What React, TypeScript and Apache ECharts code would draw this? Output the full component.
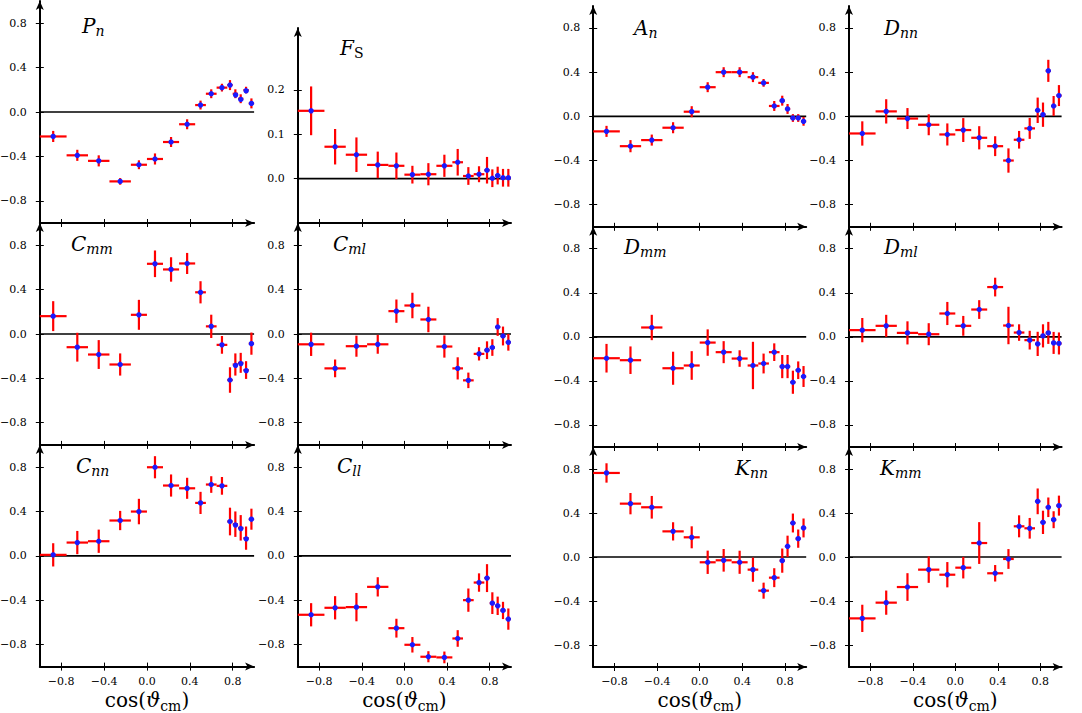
import React, { useEffect, useRef } from "react";
import * as echarts from "echarts";

// ---- shared bins (cos theta_cm) ----
const binCenters = [-0.875, -0.65, -0.45, -0.25, -0.075, 0.075, 0.225, 0.375, 0.5, 0.6, 0.7, 0.775, 0.825, 0.875, 0.925, 0.975];
const binHalfWidths = [0.125, 0.1, 0.1, 0.1, 0.075, 0.075, 0.075, 0.075, 0.05, 0.05, 0.05, 0.025, 0.025, 0.025, 0.025, 0.025];

// ---- tick values ----
const xTickValues = [-0.8, -0.4, 0, 0.4, 0.8];
const yTickValues = [-0.8, -0.4, 0, 0.4, 0.8];
const fsTickValues = [0, 0.1, 0.2];

// ---- observables ----
const PnValues = [-0.22, -0.39, -0.44, -0.625, -0.475, -0.423, -0.27, -0.11, 0.063, 0.165, 0.22, 0.243, 0.165, 0.12, 0.198, 0.078];
const PnErrors = [0.05, 0.05, 0.05, 0.03, 0.04, 0.05, 0.045, 0.045, 0.04, 0.04, 0.035, 0.045, 0.04, 0.04, 0.03, 0.045];

const FsValues = [0.153, 0.072, 0.054, 0.031, 0.029, 0.009, 0.01, 0.029, 0.037, 0.006, 0.01, 0.019, 0.001, 0.007, 0.002, 0.002];
const FsErrors = [0.055, 0.04, 0.039, 0.03, 0.03, 0.02, 0.025, 0.025, 0.03, 0.02, 0.018, 0.03, 0.02, 0.02, 0.02, 0.02];

const AnValues = [-0.136, -0.27, -0.215, -0.103, 0.042, 0.264, 0.4, 0.4, 0.355, 0.303, 0.094, 0.142, 0.067, -0.015, -0.015, -0.045];
const AnErrors = [0.05, 0.055, 0.05, 0.05, 0.05, 0.045, 0.045, 0.045, 0.045, 0.035, 0.045, 0.045, 0.045, 0.035, 0.035, 0.04];

const DnnValues = [-0.155, 0.045, -0.02, -0.076, -0.164, -0.124, -0.194, -0.27, -0.4, -0.212, -0.109, 0.055, 0.015, 0.412, 0.094, 0.188];
const DnnErrors = [0.11, 0.11, 0.095, 0.095, 0.1, 0.108, 0.105, 0.09, 0.11, 0.08, 0.095, 0.115, 0.11, 0.1, 0.09, 0.095];

const CmmValues = [0.161, -0.119, -0.185, -0.275, 0.173, 0.633, 0.582, 0.636, 0.376, 0.069, -0.098, -0.415, -0.275, -0.26, -0.325, -0.087];
const CmmErrors = [0.135, 0.13, 0.13, 0.1, 0.135, 0.12, 0.11, 0.095, 0.1, 0.105, 0.08, 0.115, 0.1, 0.09, 0.08, 0.1];

const CmlValues = [-0.093, -0.31, -0.11, -0.093, 0.206, 0.257, 0.131, -0.113, -0.31, -0.418, -0.179, -0.146, -0.122, 0.063, -0.018, -0.075];
const CmlErrors = [0.105, 0.08, 0.095, 0.085, 0.105, 0.115, 0.115, 0.1, 0.1, 0.07, 0.06, 0.08, 0.075, 0.08, 0.085, 0.075];

const DmmValues = [-0.194, -0.212, 0.085, -0.285, -0.26, -0.052, -0.139, -0.197, -0.26, -0.242, -0.139, -0.27, -0.27, -0.412, -0.303, -0.36];
const DmmErrors = [0.13, 0.125, 0.115, 0.15, 0.13, 0.12, 0.1, 0.075, 0.215, 0.09, 0.08, 0.105, 0.105, 0.105, 0.08, 0.095];

const DmlValues = [0.061, 0.1, 0.036, 0.024, 0.212, 0.1, 0.248, 0.452, 0.103, 0.039, -0.03, -0.064, 0.009, 0.036, -0.055, -0.06];
const DmlErrors = [0.11, 0.1, 0.105, 0.1, 0.105, 0.09, 0.085, 0.085, 0.17, 0.075, 0.085, 0.11, 0.105, 0.1, 0.1, 0.1];

const CnnValues = [0.009, 0.12, 0.132, 0.319, 0.4, 0.8, 0.635, 0.61, 0.478, 0.644, 0.632, 0.31, 0.286, 0.253, 0.16, 0.331];
const CnnErrors = [0.105, 0.105, 0.105, 0.087, 0.115, 0.1, 0.1, 0.095, 0.1, 0.075, 0.08, 0.125, 0.115, 0.115, 0.105, 0.095];

const CllValues = [-0.532, -0.469, -0.463, -0.28, -0.653, -0.803, -0.911, -0.917, -0.746, -0.4, -0.241, -0.201, -0.427, -0.451, -0.493, -0.571];
const CllErrors = [0.105, 0.105, 0.128, 0.087, 0.085, 0.07, 0.05, 0.053, 0.075, 0.105, 0.083, 0.126, 0.098, 0.083, 0.078, 0.096];

const KnnValues = [0.764, 0.485, 0.452, 0.233, 0.179, -0.048, -0.03, -0.048, -0.115, -0.306, -0.188, -0.033, 0.097, 0.309, 0.167, 0.264];
const KnnErrors = [0.088, 0.097, 0.103, 0.083, 0.1, 0.106, 0.103, 0.105, 0.11, 0.073, 0.086, 0.11, 0.097, 0.086, 0.083, 0.086];

const KmmValues = [-0.558, -0.415, -0.273, -0.115, -0.161, -0.097, 0.127, -0.148, -0.018, 0.279, 0.261, 0.506, 0.315, 0.452, 0.339, 0.467];
const KmmErrors = [0.124, 0.11, 0.126, 0.12, 0.115, 0.098, 0.19, 0.075, 0.09, 0.1, 0.094, 0.117, 0.106, 0.089, 0.077, 0.091];

// ---- panels (row-major) ----
const panels = [
  { title: "{m|P}{s|n}", values: PnValues, errors: PnErrors },
  { title: "{m|F}{r|S}", values: FsValues, errors: FsErrors, yMin: -0.1, yMax: 0.34, yTicks: fsTickValues },
  { title: "{m|A}{s|n}", values: AnValues, errors: AnErrors },
  { title: "{m|D}{s|nn}", values: DnnValues, errors: DnnErrors },
  { title: "{m|C}{s|mm}", values: CmmValues, errors: CmmErrors },
  { title: "{m|C}{s|ml}", values: CmlValues, errors: CmlErrors },
  { title: "{m|D}{s|mm}", values: DmmValues, errors: DmmErrors },
  { title: "{m|D}{s|ml}", values: DmlValues, errors: DmlErrors },
  { title: "{m|C}{s|nn}", values: CnnValues, errors: CnnErrors },
  { title: "{m|C}{s|ll}", values: CllValues, errors: CllErrors },
  { title: "{m|K}{s|nn}", values: KnnValues, errors: KnnErrors },
  { title: "{m|K}{s|mm}", values: KmmValues, errors: KmmErrors },
];

// ---- layout ----
const colLeft = [39.8, 297.8, 593.2, 849];
const colWidth = [214.3, 213.2, 213, 212.6];
const rowTopL = [1.1, 223.1, 445.1];
const rowHL = [221.9, 221.8, 221.5];
const rowTopR = [5.9, 226.7, 447];
const rowHR = [220.9, 220.3, 220];
const fsGrid = { top: 27.9, height: 195.1 };
const titleX = [82, 340, 634, 884, 71, 333, 624, 884, 76, 337, 735, 880];
const titleY = [26, 47.5, 28, 28, 244, 244, 247, 247, 465.5, 465.5, 468, 468];

const SERIF = "DejaVu Serif";
const RED = "#ff0000";
const BLUE = "#1a1aff";

const fmt = (v: number) => {
  const s = Math.abs(v).toFixed(1);
  return v < -1e-9 ? "\u2212" + s : s;
};

function buildOption() {
  const grid: any[] = [];
  const xAxis: any[] = [];
  const yAxis: any[] = [];
  const series: any[] = [];
  const graphic: any[] = [];

  panels.forEach((p: any, i: number) => {
    const row = Math.floor(i / 4);
    const col = i % 4;
    let top = col < 2 ? rowTopL[row] : rowTopR[row];
    let height = col < 2 ? rowHL[row] : rowHR[row];
    if (p.yMin !== undefined) {
      top = fsGrid.top;
      height = fsGrid.height;
    }
    grid.push({
      left: colLeft[col],
      width: colWidth[col],
      top,
      height,
      containLabel: false,
      outerBoundsMode: "none",
    });
    const yMin = p.yMin !== undefined ? p.yMin : -1;
    const yMax = p.yMax !== undefined ? p.yMax : 1;
    const yTicks = p.yTicks || yTickValues;
    const bottomRow = row === 2;

    xAxis.push({
      type: "value",
      gridIndex: i,
      min: -1,
      max: 1,
      position: "bottom",
      axisLine: {
        show: true,
        onZero: false,
        symbol: ["none", "arrow"],
        symbolSize: [6, 9],
        lineStyle: { color: "#000", width: 2 },
      },
      axisTick: { show: true, length: 4, customValues: xTickValues, lineStyle: { color: "#000", width: 1 } },
      axisLabel: {
        show: bottomRow,
        customValues: xTickValues,
        formatter: fmt,
        fontFamily: SERIF,
        fontSize: 11,
        color: "#000",
        margin: 9,
      },
      splitLine: { show: false },
      name: bottomRow ? "{r|cos(}{i|\u03D1}{s|cm}{r|)}" : "",
      nameLocation: "middle",
      nameGap: 20,
      nameTextStyle: {
        rich: {
          r: { fontFamily: SERIF, fontSize: 20, color: "#000", lineHeight: 26, verticalAlign: "middle" },
          i: { fontFamily: SERIF, fontSize: 20, fontStyle: "italic", color: "#000", lineHeight: 26, verticalAlign: "middle" },
          s: { fontFamily: SERIF, fontSize: 14, color: "#000", verticalAlign: "bottom" },
        },
      },
    });
    xAxis.push({
      type: "value",
      gridIndex: i,
      min: -1,
      max: 1,
      position: "bottom",
      axisLine: { show: false, onZero: false },
      axisTick: { show: true, inside: true, length: 4, customValues: xTickValues, lineStyle: { color: "#000", width: 1 } },
      axisLabel: { show: false },
      splitLine: { show: false },
    });
    yAxis.push({
      type: "value",
      gridIndex: i,
      min: yMin,
      max: yMax,
      position: "left",
      axisLine: {
        show: true,
        onZero: false,
        symbol: ["none", "arrow"],
        symbolSize: [6, 9],
        lineStyle: { color: "#000", width: 2 },
      },
      axisTick: { show: true, length: 4, customValues: yTicks, lineStyle: { color: "#000", width: 1 } },
      axisLabel: {
        show: true,
        customValues: yTicks,
        formatter: fmt,
        fontFamily: SERIF,
        fontSize: 11,
        color: "#000",
        margin: 13,
      },
      splitLine: { show: false },
    });
    yAxis.push({
      type: "value",
      gridIndex: i,
      min: yMin,
      max: yMax,
      position: "left",
      axisLine: { show: false, onZero: false },
      axisTick: { show: true, inside: true, length: 4, customValues: yTicks, lineStyle: { color: "#000", width: 1 } },
      axisLabel: { show: false },
      splitLine: { show: false },
    });

    // zero line
    series.push({
      type: "line",
      xAxisIndex: 2 * i,
      yAxisIndex: 2 * i,
      data: [
        [-1, 0],
        [1, 0],
      ],
      symbol: "none",
      silent: true,
      lineStyle: { color: "#000", width: 1.6 },
      z: 1,
    });

    const data = binCenters.map((c, k) => [c, p.values[k], binHalfWidths[k], p.errors[k]]);
    series.push({
      type: "custom",
      xAxisIndex: 2 * i,
      yAxisIndex: 2 * i,
      data,
      encode: { x: 0, y: 1 },
      z: 3,
      renderItem: (params: any, api: any) => {
        const x = api.value(0);
        const y = api.value(1);
        const hw = api.value(2);
        const e = api.value(3);
        const c = api.coord([x, y]);
        const l = api.coord([x - hw, y]);
        const r = api.coord([x + hw, y]);
        const t = api.coord([x, y + e]);
        const b = api.coord([x, y - e]);
        return {
          type: "group",
          children: [
            { type: "line", shape: { x1: l[0], y1: l[1], x2: r[0], y2: r[1] }, style: { stroke: RED, lineWidth: 2.2 } },
            { type: "line", shape: { x1: t[0], y1: t[1], x2: b[0], y2: b[1] }, style: { stroke: RED, lineWidth: 2.2 } },
            { type: "circle", shape: { cx: c[0], cy: c[1], r: 2.7 }, style: { fill: BLUE } },
          ],
        };
      },
    });

    graphic.push({
      type: "text",
      x: titleX[i],
      y: titleY[i],
      z: 10,
      style: {
        text: p.title,
        align: "left",
        verticalAlign: "middle",
        fill: "#000",
        rich: {
          m: { fontFamily: SERIF, fontSize: 20, fontStyle: "italic", fill: "#000", lineHeight: 24, verticalAlign: "middle" },
          s: { fontFamily: SERIF, fontSize: 14, fontStyle: "italic", fill: "#000", verticalAlign: "bottom" },
          r: { fontFamily: SERIF, fontSize: 14, fill: "#000", verticalAlign: "bottom" },
        },
      },
    });
  });

  return {
    animation: false,
    backgroundColor: "#ffffff",
    grid,
    xAxis,
    yAxis,
    series,
    graphic,
  };
}

export default function App() {
  const ref = useRef<HTMLDivElement>(null);
  useEffect(() => {
    if (!ref.current) return;
    const chart = echarts.init(ref.current, undefined, { renderer: "svg" });
    chart.setOption(buildOption() as any);
    return () => chart.dispose();
  }, []);
  return (
    <div
      ref={ref}
      style={{ position: "fixed", left: 0, top: 0, width: 1082, height: 713, background: "#fff" }}
    />
  );
}
